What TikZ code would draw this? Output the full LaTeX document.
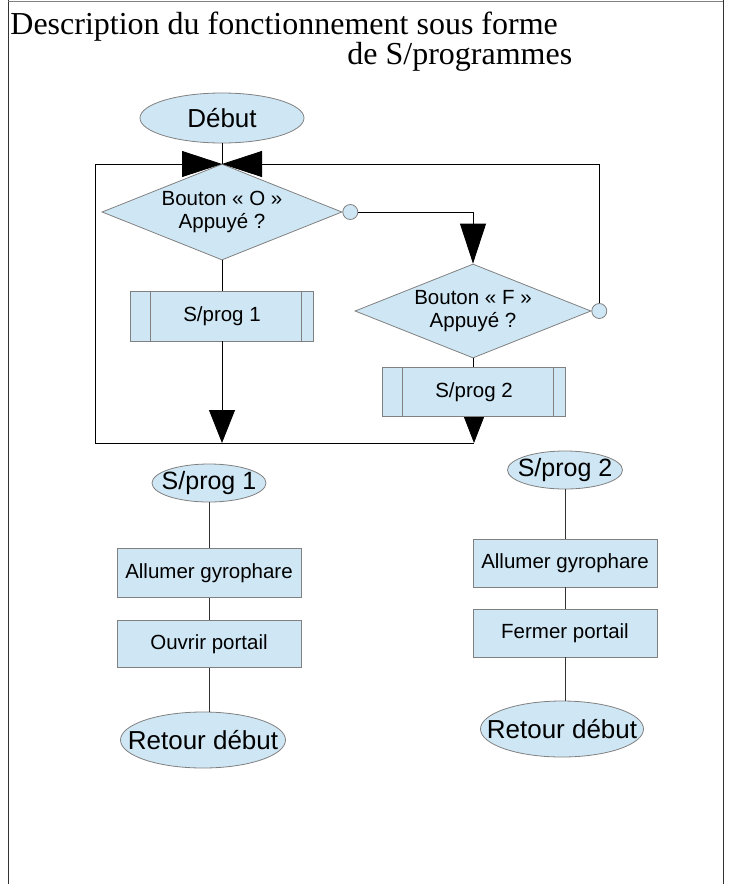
\documentclass[tikz,border=0pt]{standalone}
\usepackage{fontspec}
\setmainfont{Liberation Serif}
\setsansfont{Liberation Sans}
\usetikzlibrary{shapes.geometric,arrows.meta}
\definecolor{bleu}{RGB}{207,231,245}
\definecolor{bord}{RGB}{128,128,128}
\tikzset{
  forme/.style={draw=bord, fill=bleu, inner sep=0pt, font=\sffamily\fontsize{20.5}{23}\selectfont},
  ovale/.style={forme, ellipse, font=\sffamily\fontsize{26}{28}\selectfont},
  boite/.style={forme, rectangle, minimum width=184pt, minimum height=48pt},
  sousprog/.style={boite, minimum width=183pt, minimum height=50pt,
    path picture={
      \draw[bord] ([xshift=20pt]path picture bounding box.north west) -- ([xshift=20pt]path picture bounding box.south west);
      \draw[bord] ([xshift=-12pt]path picture bounding box.north east) -- ([xshift=-12pt]path picture bounding box.south east);}},
  losange/.style={forme, diamond, aspect=2.55, minimum width=240pt, minimum height=96pt, align=center},
  rond/.style={circle, draw=bord, fill=bleu, minimum size=15pt, inner sep=0pt},
  fleche/.style={-{Triangle[length=40pt,width=26pt]}},
  fleche2/.style={-{Triangle[length=33pt,width=26pt]}},
  fleche3/.style={-{Triangle[length=26pt,width=20pt]}},
  lien/.style={draw=black!80},
  titre/.style={anchor=base west, inner sep=0pt, font=\fontsize{32}{34}\selectfont}
}

\begin{document}
\begin{tikzpicture}[x=1pt, y=-1pt, line width=0.8pt]
\useasboundingbox (0,0) rectangle (731,884);
% cadre
\draw[black!80] (8,0) -- (8,884);
\draw[black!80] (723,0) -- (723,884);
\draw[bord] (8,1) -- (723,1);
% titre
\node[titre] (titre1) at (10,34) {Description du fonctionnement sous forme};
\node[titre] (titre2) at (347,64) {de S/programmes};

% programme principal
\node[ovale, minimum width=164pt, minimum height=50pt] (debut) at (222,118) {Début};
\coordinate (J) at (222,164);
\node[losange] (bo) at (222,212) {Bouton « O »\\Appuyé ?};
\node[rond, anchor=west] (co) at (bo.east) {};
\node[losange, minimum width=236pt, minimum height=94pt] (bf) at (473,311) {Bouton « F »\\Appuyé ?};
\node[rond, anchor=west] (cf) at (bf.east) {};
\node[sousprog] (sp1) at (222,316) {S/prog 1};
\node[sousprog, minimum height=49pt] (sp2) at (474,392) {S/prog 2};
\coordinate (bas) at (95,443);
\coordinate (b2) at (sp2.south |- bas);

\draw (debut.south) -- (J);
\draw[fleche] (co.east) -| (bf.north);
\draw[fleche] (cf.north) |- (J);
\draw (bo.south) -- (sp1.north);
\draw[fleche2] (sp1.south) -- (sp1.south |- bas);
\draw (bf.south) -- (bf.south |- sp2.north);
\draw[fleche3] (sp2.south) -- (b2);
\draw[fleche] (b2) -- (bas) |- (J);

% S/prog 1
\node[ovale, minimum width=114pt, minimum height=38pt, font=\sffamily\fontsize{25}{27}\selectfont] (e1) at (209,483) {\makebox[0pt]{S/prog 1}};
\node[boite, minimum height=49pt] (al1) at (209,573) {Allumer gyrophare};
\node[boite, minimum height=47pt] (ou1) at (209,644) {Ouvrir portail};
\node[ovale, minimum width=165pt, minimum height=56pt] (ret1) at (203,740) {\makebox[0pt]{Retour début}};
\draw[lien] (e1.south) -- (al1.north);
\draw[lien] (al1.south) -- (ou1.north);
\draw[lien] (ou1.south) -- (ou1.south |- ret1.north);

% S/prog 2
\node[ovale, minimum width=115pt, minimum height=38pt, font=\sffamily\fontsize{25}{27}\selectfont] (e2) at (565,470) {\makebox[0pt]{S/prog 2}};
\node[boite] (al2) at (565,563) {Allumer gyrophare};
\node[boite] (fe2) at (565,633) {Fermer portail};
\node[ovale, minimum width=163pt, minimum height=56pt] (ret2) at (562,729) {\makebox[0pt]{Retour début}};
\draw[lien] (e2.south) -- (al2.north);
\draw[lien] (al2.south) -- (fe2.north);
\draw[lien] (fe2.south) -- (fe2.south |- ret2.north);
\end{tikzpicture}
\end{document}
